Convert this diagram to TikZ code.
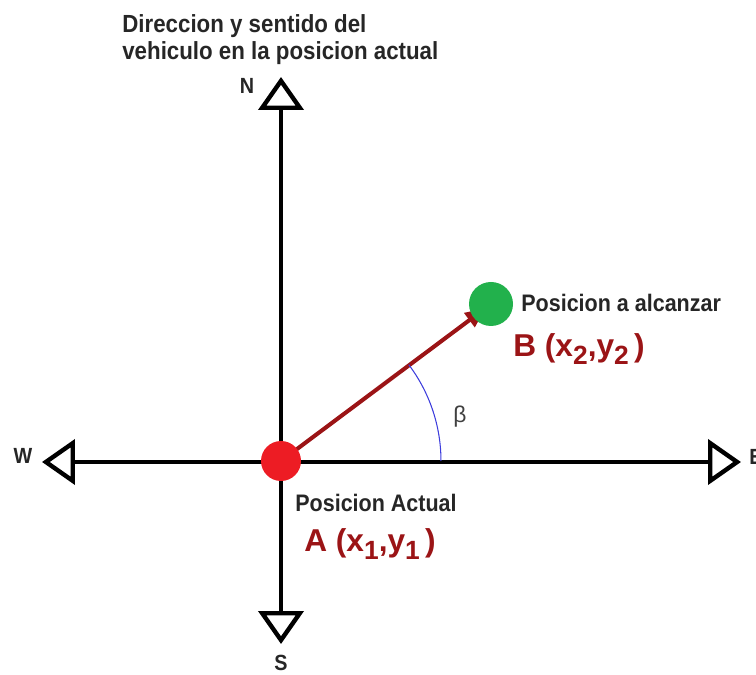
\documentclass[tikz,border=0pt]{standalone}
\usepackage{fontspec}
\setmainfont{Liberation Sans}
\newfontfamily\condfont{Liberation Sans}[FakeStretch=0.9]
\usetikzlibrary{arrows.meta}

\definecolor{posred}{RGB}{237,28,36}
\definecolor{posgreen}{RGB}{34,177,76}
\definecolor{vecred}{RGB}{155,20,22}
\definecolor{arcblue}{RGB}{60,60,220}

% lowered index, as in x_1
\newcommand{\lowidx}[1]{\raisebox{-4.5pt}{\fontsize{15}{15}\selectfont #1}}

\begin{document}
\begin{tikzpicture}[
    x=0.02cm, y=0.02cm,
    axis/.style={line width=2.8pt, black,
                 {Triangle[open, length=0.66cm, width=0.9cm, line width=2.5pt]}-{Triangle[open, length=0.66cm, width=0.9cm, line width=2.5pt]}},
    vertaxis/.style={axis},
    position/.style={circle, inner sep=0pt, minimum size=#1},
    vec/.style={line width=2.3pt, vecred,
                -{Triangle[length=0.4cm, width=0.34cm]},
                shorten >=4pt},
    angarc/.style={arcblue, line width=0.6pt},
    txt/.style={font=\condfont\bfseries\fontsize{13.6}{15.9}\selectfont,
                inner sep=0pt, anchor=base west, text=black!85},
    dirlbl/.style={font=\condfont\bfseries\fontsize{12.5}{12.5}\selectfont,
                   inner sep=0pt, text=black!85},
    coord/.style={font=\bfseries\fontsize{18}{18}\selectfont,
                  inner sep=0pt, anchor=base west, text=vecred},
]
\useasboundingbox (0,0) rectangle (756,675);

% Axis end points
\coordinate (wtip) at (42,213);
\coordinate (etip) at (741,213);
\coordinate (ntip) at (281,598);
\coordinate (stip) at (281,31);

% Compass axes
\draw[axis] (wtip) -- (etip);
\draw[vertaxis] (stip) -- (ntip);

% Direction letters
\node[dirlbl] (wlbl) at (23,219) {W};
\node[dirlbl] (elbl) at (756,218) {E};
\node[dirlbl] (nlbl) at (247,589) {N};
\node[dirlbl] (slbl) at (281,12) {S};

% Current and target positions
\coordinate (Ac) at (281,214);
\coordinate (Bc) at (491,371);
\draw[vec] (Ac) -- (Bc);
\node[position=0.8cm, fill=posred] (A) at (Ac) {};
\node[position=0.88cm, fill=posgreen] (B) at (Bc) {};

% Angle beta
\draw[angarc] ([shift={(0:3.2cm)}]A.center)
      arc[start angle=0, end angle=37, radius=3.2cm];
\node[font=\fontsize{13}{13}\selectfont, text=black!75] (beta) at (460,258) {β};

% Labels
\node[txt, align=left, font=\condfont\bfseries\fontsize{14.1}{15.9}\selectfont]
     (title) at (122,615)
     {Direccion y sentido del\\vehiculo en la posicion actual};
\node[txt] (blbl) at (521,363) {Posicion a alcanzar};
\node[coord] (bcoord) at (513,318) {B (x\lowidx{2},y\lowidx{2}\,)};
\node[txt] (albl) at (295,163) {Posicion Actual};
\node[coord] (acoord) at (304,123) {A (x\lowidx{1},y\lowidx{1}\,)};

\end{tikzpicture}
\end{document}
